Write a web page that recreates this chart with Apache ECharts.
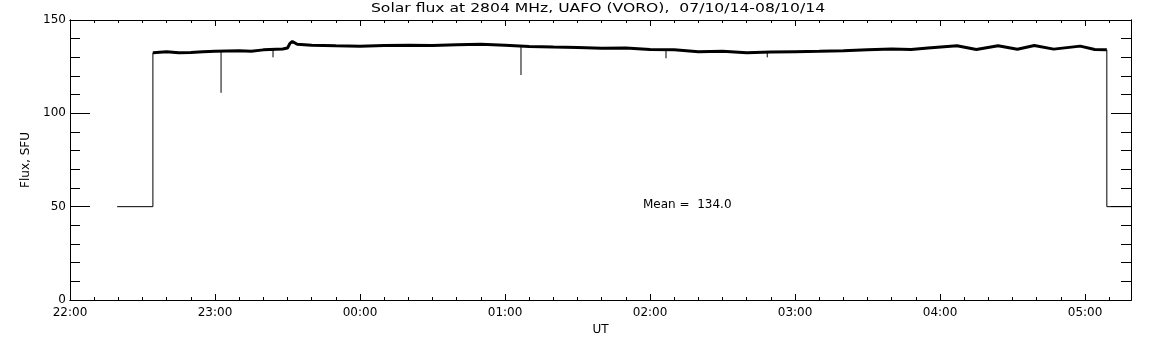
<!DOCTYPE html>
<html>
<head>
<meta charset="utf-8">
<script src="https://cdn.jsdelivr.net/npm/echarts@6/dist/echarts.min.js"></script>
<style>
  html, body { margin: 0; padding: 0; background: #fff; }
  #chart { width: 1152px; height: 345px; }
</style>
</head>
<body>
<div id="chart"></div>
<script>
// time in minutes after 22:00 UT, flux in SFU
const TITLE = 'Solar flux at 2804 MHz, UAFO (VORO),  07/10/14-08/10/14';
const MEAN = 134.0;

// quiet level outside the observing window (thin line, steps)
const offLevel = [
    [19.5, 50], [34.3, 50], [34.3, 132.5], null,
    [429, 134], [429, 50], [439, 50]
];

// plateau while the sun is tracked (noisy band)
const plateau = [
    [34.3, 132.5], [40, 133], [45, 132.4], [50, 132.6], [55, 133], [60, 133.2], [70, 133.5],
    [75, 133.3], [80, 134], [88, 134.5], [90, 135], [91, 137.5], [92, 138.5], [94, 137],
    [100, 136.5], [110, 136.2], [120, 136], [130, 136.3], [140, 136.5], [150, 136.4],
    [160, 136.7], [170, 137], [180, 136.5], [190, 135.8], [200, 135.5], [210, 135.3],
    [220, 134.8], [230, 135], [240, 134.2], [250, 134], [260, 133], [270, 133.2],
    [280, 132.5], [290, 132.8], [300, 133], [310, 133.2], [320, 133.5], [330, 134],
    [340, 134.5], [348, 134.2], [355, 135], [367, 136.2], [375, 134.2], [384, 136.2],
    [392, 134.3], [399, 136.3], [407, 134.4], [418, 136], [424, 134.2], [429, 134]
];

// short dips: [time, level, bottom]
const dips = [
    [62.5, 133, 111],
    [84, 134, 130],
    [186.6, 136, 120.5],
    [246.6, 134, 129.5],
    [288.5, 133, 130]
];

const dipLines = [];
dips.forEach(d => {
    dipLines.push([d[0], d[1]], [d[0], d[2]], null);
});

const fmtTime = v => {
    const h = (22 + Math.floor(v / 60)) % 24;
    return (h < 10 ? '0' : '') + h + ':00';
};

const FONT = 'DejaVu Sans';
const black = '#000';

let chart = echarts.init(document.getElementById('chart'), null, { renderer: 'canvas' });

const noLabel = { show: false };
const lineOn = { show: true, onZero: false, lineStyle: { color: black, width: 1 } };
const tick = len => ({ show: true, inside: true, length: len, lineStyle: { color: black, width: 1 } });

const xAx = (pos, interval, len, extra) => Object.assign({
    type: 'value', min: 0, max: 439, position: pos, interval: interval,
    splitLine: { show: false }, axisLine: lineOn, axisTick: tick(len), axisLabel: noLabel
}, extra || {});

const yAx = (pos, interval, len, extra) => Object.assign({
    type: 'value', min: 0, max: 150, position: pos, interval: interval,
    splitLine: { show: false }, axisLine: lineOn, axisTick: tick(len), axisLabel: noLabel
}, extra || {});

let option = {
    animation: false,
    backgroundColor: '#fff',
    grid: { left: 70, right: 21, top: 20, bottom: 45 },
    graphic: [
        {
            type: 'text', x: 598, y: 9, scaleX: 1.3,
            style: { text: TITLE, font: '12px "' + FONT + '"', fill: black, textAlign: 'center', textVerticalAlign: 'middle' }
        },
        {
            type: 'text', x: 643, y: 205,
            style: { text: 'Mean =  ' + MEAN.toFixed(1), font: '12px "' + FONT + '"', fill: black, textAlign: 'left', textVerticalAlign: 'middle' }
        }
    ],
    xAxis: [
        xAx('bottom', 60, 6, {
            axisLabel: {
                show: true, formatter: fmtTime, showMaxLabel: false, margin: 7,
                color: black, fontFamily: FONT, fontSize: 12
            },
            name: 'UT', nameLocation: 'middle', nameGap: 22,
            nameTextStyle: { color: black, fontFamily: FONT, fontSize: 12 }
        }),
        xAx('bottom', 10, 3),
        xAx('top', 60, 6),
        xAx('top', 10, 3)
    ],
    yAxis: [
        yAx('left', 50, 20, {
            axisLabel: { show: true, margin: 4, color: black, fontFamily: FONT, fontSize: 12 },
            name: 'Flux, SFU', nameLocation: 'middle', nameGap: 34,
            nameTextStyle: { color: black, fontFamily: FONT, fontSize: 12 }
        }),
        yAx('left', 10, 10),
        yAx('right', 50, 20),
        yAx('right', 10, 10)
    ],
    series: [
        {
            name: 'off', type: 'line', data: offLevel,
            showSymbol: false, symbol: 'none', connectNulls: false,
            lineStyle: { color: black, width: 1 }
        },
        {
            name: 'flux', type: 'line', data: plateau,
            showSymbol: false, symbol: 'none',
            lineStyle: { color: black, width: 3 }
        },
        {
            name: 'dips', type: 'line', data: dipLines,
            showSymbol: false, symbol: 'none', connectNulls: false,
            lineStyle: { color: black, width: 1 }
        }
    ]
};

chart.setOption(option);
</script>
</body>
</html>
